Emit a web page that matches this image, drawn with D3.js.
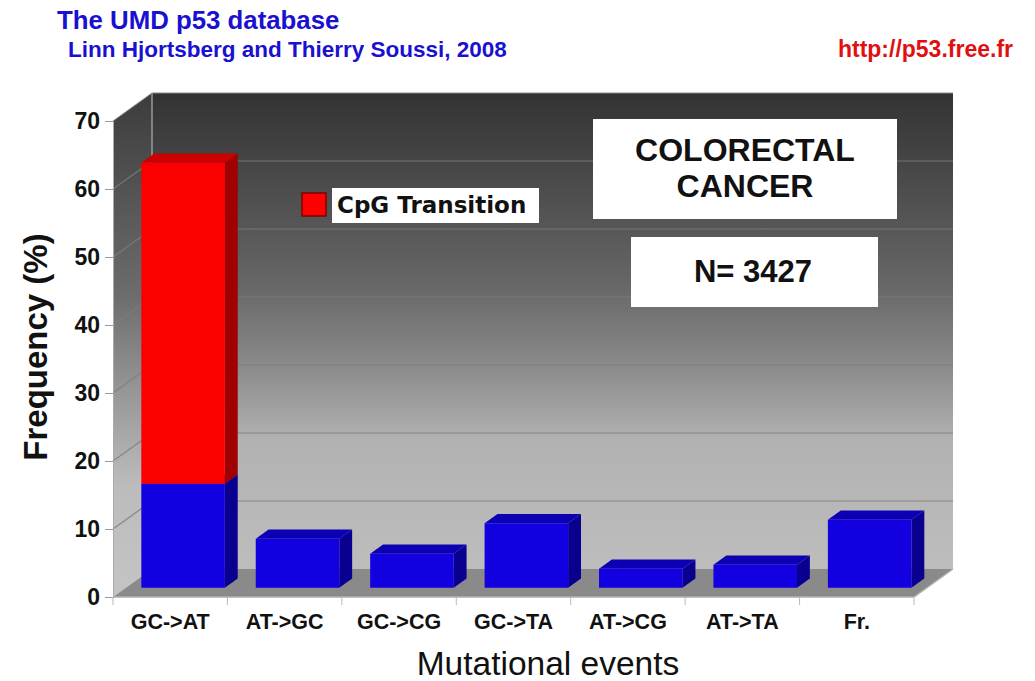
<!DOCTYPE html>
<html>
<head>
<meta charset="utf-8">
<script src="https://cdn.jsdelivr.net/npm/d3@7"></script>
<style>
  html, body { margin: 0; padding: 0; background: #fff; }
  svg { display: block; }
</style>
</head>
<body>
<script>
// Mutational events in p53 (colorectal cancer), frequency in percent
const categories = ["GC->AT", "AT->GC", "GC->CG", "GC->TA", "AT->CG", "AT->TA", "Fr."];
const baseValues = [15.3, 7.2, 5.0, 9.5, 2.8, 3.4, 10.0];   // blue part
const cpgValues  = [47.2, 0, 0, 0, 0, 0, 0];                // CpG transitions stacked on top
const yTicks = [0, 10, 20, 30, 40, 50, 60, 70];

const W = 1035, H = 681;
const svg = d3.select("body").append("svg").attr("width", W).attr("height", H);

// front plane of the 3D box, and the depth offset to the back wall
const plotL = 113, plotR = 914, plotB = 597, plotT = 121;
const DX = 39, DY = -28;

const x = d3.scaleBand().domain(categories).range([plotL, plotR])
  .paddingInner(0.27).paddingOuter(0.135);
const y = d3.scaleLinear().domain([0, 70]).range([plotB, plotT]);

// project a point on the front plane to depth fraction f (0 = front, 1 = back)
const P = (px, py, f) => [px + DX * f, py + DY * f];
const poly = pts => "M" + pts.map(p => p.join(",")).join("L") + "Z";

const defs = svg.append("defs");
const wallGrad = defs.append("linearGradient").attr("id", "wall")
  .attr("x1", 0).attr("y1", 0).attr("x2", 0).attr("y2", 1);
[[0, "#333333"], [0.4, "#666666"], [0.58, "#8c8c8c"], [0.73, "#b2b2b2"], [1, "#bdbdbd"]]
  .forEach(([o, c]) => wallGrad.append("stop").attr("offset", o).attr("stop-color", c));
const sideGrad = defs.append("linearGradient").attr("id", "side")
  .attr("x1", 0).attr("y1", 0).attr("x2", 0).attr("y2", 1);
[[0, "#3c3c3c"], [0.4, "#6c6c6c"], [0.6, "#989898"], [0.78, "#bcbcbc"], [1, "#c4c4c4"]]
  .forEach(([o, c]) => sideGrad.append("stop").attr("offset", o).attr("stop-color", c));

const g = svg.append("g");

// back wall
g.append("path")
  .attr("d", poly([P(plotL, plotT, 1), P(plotR, plotT, 1), P(plotR, plotB, 1), P(plotL, plotB, 1)]))
  .attr("fill", "url(#wall)");
// left side wall
g.append("path")
  .attr("d", poly([P(plotL, plotT, 0), P(plotL, plotT, 1), P(plotL, plotB, 1), P(plotL, plotB, 0)]))
  .attr("fill", "url(#side)");

// gridlines on the back and side walls
yTicks.filter(t => t > 0 && t < 70).forEach(t => {
  const yy = y(t);
  g.append("path")
    .attr("d", "M" + P(plotL, yy, 0) + "L" + P(plotL, yy, 1) + "L" + P(plotR, yy, 1))
    .attr("fill", "none").attr("stroke", "#7c7c7c").attr("stroke-width", 1.2)
    .attr("stroke-opacity", 0.85);
});

// wall edges
g.append("path")
  .attr("d", "M" + P(plotL, plotT, 1) + "L" + P(plotL, plotB, 1))
  .attr("stroke", "#9a9a9a").attr("stroke-width", 1.5);
g.append("path")
  .attr("d", "M" + P(plotL, plotT, 0) + "L" + P(plotL, plotT, 1) + "L" + P(plotR, plotT, 1))
  .attr("fill", "none").attr("stroke", "#8a8a8a").attr("stroke-width", 1);

// floor
g.append("path")
  .attr("d", poly([P(plotL, plotB, 0), P(plotR, plotB, 0), P(plotR, plotB, 1), P(plotL, plotB, 1)]))
  .attr("fill", "#8a8a8a");
g.append("path")
  .attr("d", "M" + P(plotL, plotB, 0) + "L" + P(plotR, plotB, 0) + "L" + P(plotR, plotB, 1))
  .attr("fill", "none").attr("stroke", "#b0b0b0").attr("stroke-width", 1.5);

// 3D bars (front face, side face, top face)
const f0 = 0.33, f1 = 0.66;
function box(x0, x1, v0, v1, colors) {
  const yb = y(v0), yt = y(v1);
  const bar = g.append("g");
  bar.append("path").attr("d", poly([P(x1, yt, f0), P(x1, yt, f1), P(x1, yb, f1), P(x1, yb, f0)]))
    .attr("fill", colors.side);
  bar.append("path").attr("d", poly([P(x0, yt, f0), P(x1, yt, f0), P(x1, yt, f1), P(x0, yt, f1)]))
    .attr("fill", colors.top);
  bar.append("path").attr("d", poly([P(x0, yt, f0), P(x1, yt, f0), P(x1, yb, f0), P(x0, yb, f0)]))
    .attr("fill", colors.front);
}
const blue = { front: "#1200e0", side: "#0a0090", top: "#0c00b4" };
const red  = { front: "#fb0000", side: "#a00000", top: "#cc0000" };

categories.forEach((c, i) => {
  const x0 = x(c), x1 = x(c) + x.bandwidth();
  const b = baseValues[i], r = cpgValues[i];
  box(x0, x1, 0, b, blue);
  if (r > 0) box(x0, x1, b, b + r, red);
});

const SANS = "Liberation Sans, Arial, Helvetica, sans-serif";

// axes
const yAxis = d3.axisLeft(y).tickValues(yTicks).tickSize(8).tickPadding(5);
const ya = svg.append("g").attr("transform", `translate(${plotL},0)`).call(yAxis);
ya.select(".domain").attr("stroke", "#aaa");
ya.selectAll(".tick line").attr("stroke", "#999");
ya.selectAll(".tick text")
  .attr("font-family", SANS)
  .attr("font-weight", "bold").attr("font-size", 23).attr("fill", "#111");

const xAxis = d3.axisBottom(x).tickSize(0).tickPadding(17);
const xa = svg.append("g").attr("transform", `translate(0,${plotB})`).call(xAxis);
xa.select(".domain").remove();
xa.selectAll(".tick text")
  .attr("font-family", SANS)
  .attr("font-weight", "bold").attr("font-size", 21.5).attr("fill", "#111");
// category separators below the floor
const seps = [plotL].concat(categories.map(c => x(c) + x.bandwidth() + x.step() * x.paddingInner() / 2));
seps[seps.length - 1] = plotR;
svg.selectAll(".sep").data(seps).join("line").attr("class", "sep")
  .attr("x1", d => d).attr("x2", d => d).attr("y1", plotB).attr("y2", plotB + 8)
  .attr("stroke", "#bbb");

// axis titles
svg.append("text").attr("transform", "translate(47,347) rotate(-90)")
  .attr("text-anchor", "middle")
  .attr("font-family", SANS)
  .attr("font-weight", "bold").attr("font-size", 33).attr("fill", "#111")
  .text("Frequency (%)");
svg.append("text").attr("x", 548).attr("y", 675).attr("text-anchor", "middle")
  .attr("font-family", SANS)
  .attr("font-size", 33.5).attr("fill", "#111")
  .text("Mutational events");

// header
svg.append("text").attr("x", 57).attr("y", 29)
  .attr("font-family", SANS)
  .attr("font-weight", "bold").attr("font-size", 25.8).attr("fill", "#1a10d0")
  .text("The UMD p53 database");
svg.append("text").attr("x", 68).attr("y", 57)
  .attr("font-family", SANS)
  .attr("font-weight", "bold").attr("font-size", 22.5).attr("fill", "#1a10d0")
  .text("Linn Hjortsberg and Thierry Soussi, 2008");
svg.append("text").attr("x", 1013).attr("y", 57).attr("text-anchor", "end")
  .attr("font-family", SANS)
  .attr("font-weight", "bold").attr("font-size", 23).attr("fill", "#e01010")
  .text("http://p53.free.fr");

// legend
svg.append("rect").attr("x", 302).attr("y", 193).attr("width", 24).attr("height", 23)
  .attr("fill", "#ff0000").attr("stroke", "#800000").attr("stroke-width", 1.5);
svg.append("rect").attr("x", 332).attr("y", 188).attr("width", 207).attr("height", 35)
  .attr("fill", "#fff");
svg.append("text").attr("x", 337).attr("y", 213)
  .attr("font-family", "DejaVu Sans, Verdana, sans-serif")
  .attr("font-weight", "bold").attr("font-size", 23).attr("fill", "#111")
  .text("CpG Transition");

// annotation boxes
svg.append("rect").attr("x", 593).attr("y", 119).attr("width", 304).attr("height", 100)
  .attr("fill", "#fff");
const t1 = svg.append("text").attr("text-anchor", "middle")
  .attr("font-family", SANS)
  .attr("font-weight", "bold").attr("font-size", 32).attr("fill", "#111");
t1.append("tspan").attr("x", 745).attr("y", 161).text("COLORECTAL");
t1.append("tspan").attr("x", 745).attr("y", 197).text("CANCER");

svg.append("rect").attr("x", 631).attr("y", 237).attr("width", 247).attr("height", 70)
  .attr("fill", "#fff");
svg.append("text").attr("x", 753).attr("y", 282).attr("text-anchor", "middle")
  .attr("font-family", SANS)
  .attr("font-weight", "bold").attr("font-size", 31).attr("fill", "#111")
  .text("N= 3427");
</script>
</body>
</html>
